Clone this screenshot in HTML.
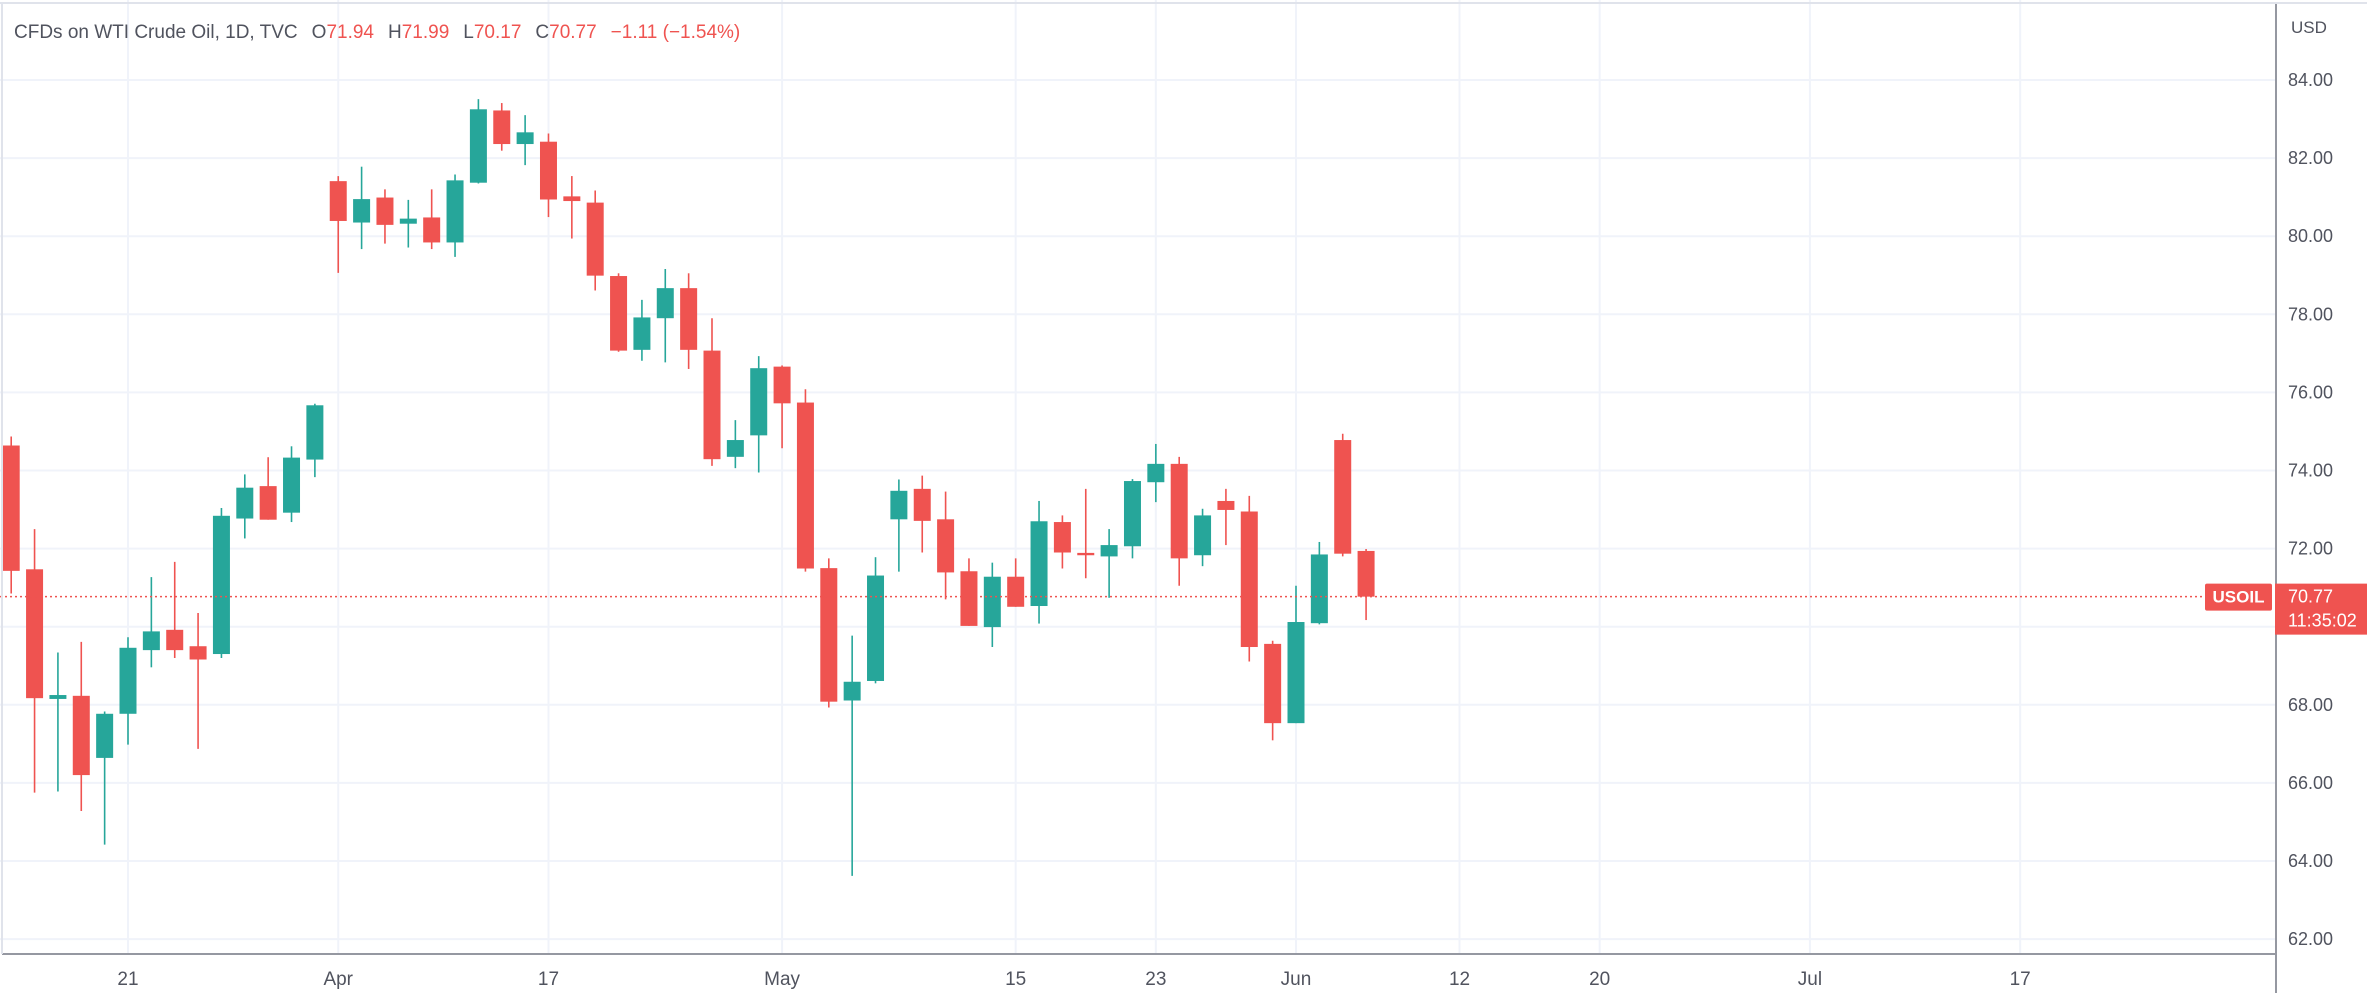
<!DOCTYPE html>
<html><head><meta charset="utf-8"><style>
html,body{margin:0;padding:0;background:#fff;}
svg{display:block;font-family:"Liberation Sans",sans-serif;}
</style></head><body>
<svg id="chart" width="2367" height="993" viewBox="0 0 2367 993" xmlns="http://www.w3.org/2000/svg">
<rect x="0" y="0" width="2367" height="993" fill="#ffffff"/>
<g id="grid"></g>
<g id="candles"></g>
<g id="overlay"></g>
</svg>
<script>
const opens  = [74.64,71.47,68.15,68.23,66.64,67.77,69.40,69.92,69.50,69.30,72.77,73.60,72.92,74.28,81.41,80.35,80.99,80.32,80.48,79.84,81.37,83.22,82.36,82.42,81.02,80.86,78.98,77.09,77.90,78.67,77.07,74.35,74.90,76.66,75.74,71.50,68.11,68.61,72.75,73.53,72.75,71.42,69.99,71.28,70.53,72.68,71.89,71.80,72.06,73.70,74.17,71.83,73.22,72.95,69.56,67.53,70.09,74.78,71.94];
const highs  = [74.87,72.50,69.34,69.61,67.83,69.73,71.27,71.66,70.35,73.04,73.90,74.34,74.62,75.71,81.54,81.78,81.20,80.93,81.20,81.58,83.51,83.41,83.10,82.63,81.54,81.17,79.05,78.37,79.16,79.05,77.90,75.29,76.93,76.69,76.08,71.75,69.77,71.78,73.77,73.87,73.46,71.75,71.64,71.75,73.22,72.85,73.53,72.50,73.78,74.68,74.35,73.02,73.53,73.35,69.64,71.05,72.17,74.94,71.99];
const lows   = [70.85,65.75,65.78,65.28,64.42,66.98,68.96,69.20,66.87,69.20,72.26,72.74,72.68,73.83,79.06,79.67,79.81,79.71,79.67,79.47,81.35,82.19,81.82,80.49,79.94,78.61,77.04,76.81,76.77,76.60,74.12,74.06,73.95,74.57,71.41,67.93,63.62,68.55,71.41,71.90,70.70,70.02,69.48,70.51,70.08,71.49,71.24,70.74,71.75,73.19,71.05,71.55,72.09,69.11,67.09,67.53,70.06,71.80,70.17];
const closes = [71.43,68.17,68.25,66.20,67.77,69.46,69.88,69.40,69.16,72.84,73.56,72.74,74.33,75.67,80.39,80.95,80.29,80.45,79.84,81.43,83.25,82.36,82.66,80.94,80.90,78.99,77.07,77.92,78.67,77.09,74.29,74.78,76.62,75.72,71.49,68.08,68.59,71.31,73.48,72.71,71.39,70.02,71.28,70.51,72.70,71.90,71.83,72.09,73.73,74.17,71.75,72.85,72.99,69.48,67.53,70.12,71.85,71.87,70.77];
const priceTicks = [84,82,80,78,76,74,72,70,68,66,64,62];
const dateLabels = ["21","Apr","17","May","15","23","Jun","12","20","Jul","17"];
const dateIndex  = [5,14,23,33,43,49,55,62,68,77,86];
const lastPrice = 70.77;

const NS="http://www.w3.org/2000/svg";
function yScale(p){ return 80 + (84 - p) * 39.05; }
function xScale(i){ return 11.2 + i * 23.36; }
const AXIS_X = 2276, AXIS_Y = 954;
function mk(tag, attrs, parent){ const e=document.createElementNS(NS,tag); for(const k in attrs) e.setAttribute(k,attrs[k]); parent.appendChild(e); return e; }
const grid=document.getElementById('grid'), cg=document.getElementById('candles'), ov=document.getElementById('overlay');

priceTicks.forEach(function(p){
  const y=yScale(p);
  const l=mk('line',{x1:0,x2:AXIS_X,y1:y,y2:y,stroke:'#f0f3fa','stroke-width':2},grid);
  
  
  const t=mk('text',{x:2288,y:y+6,'font-size':18,fill:'#50535e'},ov);
  t.textContent=p.toFixed(2);
  
  
});
dateLabels.forEach(function(d,k){
  const x=xScale(dateIndex[k]);
  const l=mk('line',{x1:x,x2:x,y1:0,y2:AXIS_Y,stroke:'#f0f3fa','stroke-width':2},grid);
  
  
  const t=mk('text',{x:x,y:985,'font-size':19,fill:'#50535e','text-anchor':'middle'},ov);
  t.textContent=d;
  
  
});
for(let i=0;i<opens.length;i++){
  const up=closes[i]>=opens[i];
  const col=up?'#26a69a':'#ef5350';
  const x=xScale(i);
  const w=mk('line',{x1:x,x2:x,y1:yScale(highs[i]),y2:yScale(lows[i]),stroke:col,'stroke-width':1.6},cg);
  
  
  const top=yScale(Math.max(opens[i],closes[i])), bot=yScale(Math.min(opens[i],closes[i]));
  const b=mk('rect',{x:x-8.5,y:top,width:17,height:Math.max(bot-top,2),fill:col},cg);
  
  
}
const ly=yScale(lastPrice);
const pl=mk('line',{x1:0,x2:AXIS_X,y1:ly,y2:ly,stroke:'#ef5350','stroke-width':1.5,'stroke-dasharray':'2 3'},ov);


const ax1=mk('line',{x1:AXIS_X,x2:AXIS_X,y1:3,y2:993,stroke:'#9598a1','stroke-width':2},ov);


const ax2=mk('line',{x1:2,x2:AXIS_X,y1:AXIS_Y,y2:AXIS_Y,stroke:'#9598a1','stroke-width':2},ov);


const bt=mk('line',{x1:0,x2:2367,y1:3,y2:3,stroke:'#e0e3eb','stroke-width':2},ov);


const bl=mk('line',{x1:2,x2:2,y1:3,y2:AXIS_Y,stroke:'#e0e3eb','stroke-width':2},ov);


const sb=mk('rect',{x:2205,y:ly-13,width:67,height:27,rx:2,fill:'#ef5350'},ov);


const st=mk('text',{x:2238.5,y:ly+6,'font-size':17,'font-weight':'bold',fill:'#fff','text-anchor':'middle'},ov);
st.textContent='USOIL';


const pb=mk('rect',{x:2275,y:ly-13,width:92,height:51,fill:'#ef5350'},ov);


const pt=mk('text',{x:2288,y:ly+6,'font-size':18,fill:'#fff'},ov);
pt.textContent=lastPrice.toFixed(2);


const ct=mk('text',{x:2288,y:ly+30,'font-size':18,fill:'#fff'},ov);
ct.textContent='11:35:02';


const ut=mk('text',{x:2291,y:33,'font-size':17,fill:'#50535e'},ov);
ut.textContent='USD';


</script>
<svg style="position:absolute;left:0;top:0" width="900" height="50">
<text x="14" y="38" font-size="19" fill="#50535e" font-family="Liberation Sans, sans-serif"><tspan>CFDs on WTI Crude Oil, 1D, TVC</tspan><tspan dx="14">O</tspan><tspan fill="#ef5350">71.94</tspan><tspan dx="14">H</tspan><tspan fill="#ef5350">71.99</tspan><tspan dx="14">L</tspan><tspan fill="#ef5350">70.17</tspan><tspan dx="14">C</tspan><tspan fill="#ef5350">70.77</tspan><tspan dx="14" fill="#ef5350">−1.11 (−1.54%)</tspan></text>
</svg>
</body></html>
